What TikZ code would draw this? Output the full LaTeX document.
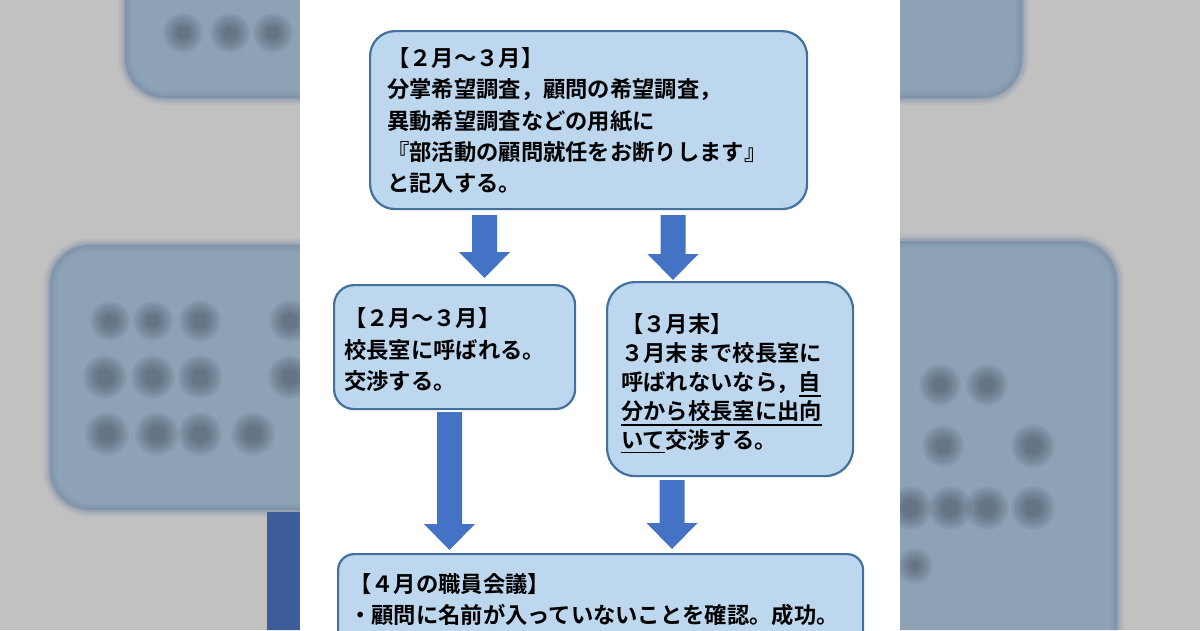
\documentclass[tikz,border=0pt]{standalone}
\usepackage{fontspec}
\newfontfamily\jp{Noto Sans CJK JP Bold}
\usetikzlibrary{calc}
\definecolor{boxfill}{HTML}{BDD7EE}
\definecolor{boxline}{HTML}{41719C}
\definecolor{arrowblue}{HTML}{4472C4}
\definecolor{bggray}{HTML}{C1C1C1}
\definecolor{blurbox}{HTML}{8EA2B6}
\definecolor{blurline}{HTML}{7186A2}
\definecolor{blurblue}{HTML}{3D5C9A}
\definecolor{blobcol}{HTML}{3C4652}
\newcommand\myul[1]{\vtop{\hbox{#1}\kern2.2pt\hrule height 1.8pt}}
\newcommand\flowarrow[2]{%
  \fill[arrowblue] ($(#1)+(-12.5,0)$) -- ($(#2)+(-12.5,-26)$) -- ($(#2)+(-25.5,-26)$) -- (#2)
    -- ($(#2)+(25.5,-26)$) -- ($(#2)+(12.5,-26)$) -- ($(#1)+(12.5,0)$) -- cycle;}
\newcommand\blurrect[2]{%
  \fill[blurbox, rounded corners=40pt] (#1) rectangle (#2);
  \draw[blurline, line width=14pt, opacity=.10, rounded corners=40pt] (#1) rectangle (#2);
  \draw[blurline, line width=9pt, opacity=.18, rounded corners=40pt] (#1) rectangle (#2);
  \draw[blurline, line width=4pt, opacity=.30, rounded corners=40pt] (#1) rectangle (#2);}
\begin{document}
\begin{tikzpicture}[x=1pt,y=-1pt,
  flowbox/.style={draw=boxline, line width=2.2pt, fill=boxfill, anchor=north west, inner sep=0pt},
  txt/.style={anchor=west, inner sep=0pt, align=left, text=black},
  bl/.style={fill=blobcol, opacity=.075}
  ]
\useasboundingbox (0,0) rectangle (1200,630);
\fill[bggray] (0,0) rectangle (1200,630);
% blurred background copy at the sides
\begin{scope}
  \clip (0,0) rectangle (300,630) (900,0) rectangle (1200,630);
  \blurrect{125,-80}{1022,98}
  \blurrect{50,245}{420,510}
  \blurrect{780,241}{1117,680}
  \fill[blurblue] (267,512) rectangle (330,640);
  \foreach \x/\y/\r in {183/33/12, 230/33/12, 273/33/12,
      110/321/12, 153/321/12, 200/321/13, 290/321/13,
      105/377/14, 153/377/14, 200/377/14, 290/377/14,
      107/434/14, 157/434/14, 200/434/14, 253/434/14,
      940/385/13, 987/385/13, 943/446/13, 1033/446/14,
      910/508/14, 950/508/14, 987/508/14, 1033/508/14, 915/566/10}
  {
    \foreach \k in {0,...,7} \fill[bl] (\x,\y) circle (\r+8-2*\k);
  }
\end{scope}
\fill[white] (300,0) rectangle (900,630);
% boxes
\node[flowbox, rounded corners=25pt, minimum width=437pt, minimum height=178pt] (top) at (369,30) {};
\node[flowbox, rounded corners=20pt, minimum width=241pt, minimum height=124pt] (left) at (333,284) {};
\node[flowbox, rounded corners=28pt, minimum width=246pt, minimum height=194pt] (right) at (606,281) {};
\node[flowbox, rounded corners=16pt, minimum width=525pt, minimum height=130pt] (bottom) at (337,553) {};
% texts
\node[txt, font=\jp\fontsize{22.3}{31.3}\selectfont] (ttop) at (387,120.5)
  {【２月～３月】\\分掌希望調査，顧問の希望調査，\\異動希望調査などの用紙に\\『部活動の顧問就任をお断りします』\\と記入する。};
\node[txt, font=\jp\fontsize{22.3}{31.5}\selectfont] (tleft) at (344,350)
  {【２月～３月】\\校長室に呼ばれる。\\交渉する。};
\node[txt, font=\jp\fontsize{22.3}{29}\selectfont] (tright) at (621,383.5)
  {【３月末】\\３月末まで校長室に\\呼ばれないなら，\myul{自}\\\myul{分から校長室に出向}\\\myul{いて}交渉する。};
\node[txt, font=\jp\fontsize{22.3}{31}\selectfont] (tbottom) at (349,600)
  {【４月の職員会議】\\・顧問に名前が入っていないことを確認。成功。};
% connectors
\coordinate (a1s) at (484.5,215); \coordinate (a1e) at (484.5,278);
\coordinate (a2s) at (673,215);   \coordinate (a2e) at (673,280);
\coordinate (a3s) at (449.5,412); \coordinate (a3e) at (449.5,550);
\coordinate (a4s) at (672,480);   \coordinate (a4e) at (672,549);
\flowarrow{a1s}{a1e}
\flowarrow{a2s}{a2e}
\flowarrow{a3s}{a3e}
\flowarrow{a4s}{a4e}
\end{tikzpicture}
\end{document}
